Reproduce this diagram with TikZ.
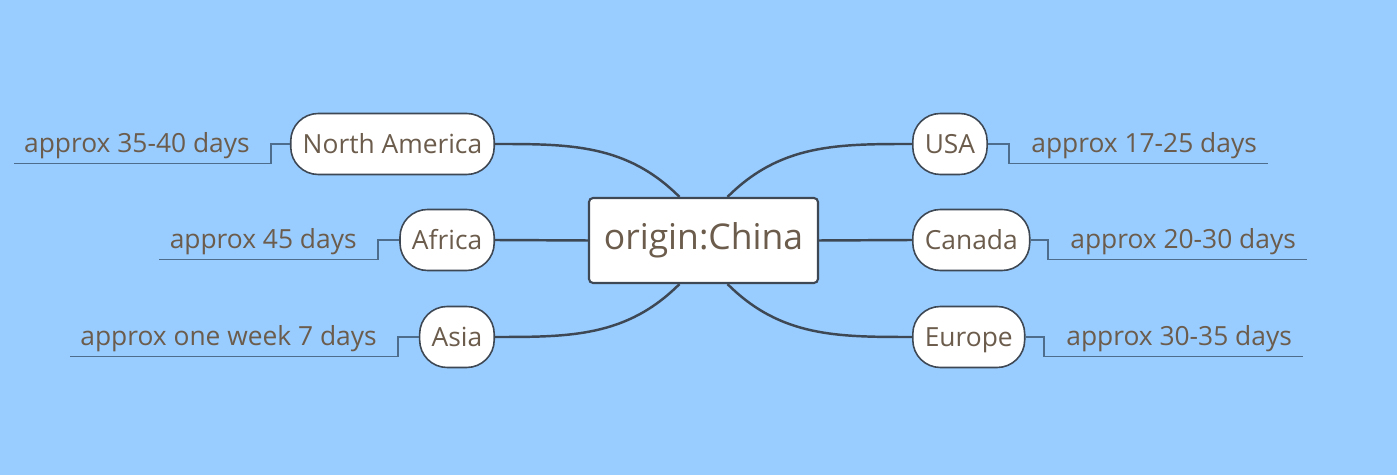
\documentclass[tikz,border=0pt]{standalone}
\usepackage{fontspec}
\setmainfont{Open Sans}
\usepackage{tikz}
\usepackage{xcolor}
\definecolor{bgblue}{RGB}{153,204,255}
\definecolor{txtbrown}{RGB}{107,92,76}
\definecolor{edgegray}{RGB}{62,72,84}
\definecolor{tieblue}{RGB}{78,108,140}

\begin{document}
\begin{tikzpicture}[x=0.02cm,y=-0.02cm,font=\fontsize{15}{18}\selectfont,
 every node/.style={text=txtbrown},
 topic/.style={draw=edgegray,line width=0.9pt,fill=white,rounded corners=0.55cm,minimum height=1.22cm,inner xsep=0.24cm,text height=11.3pt,text depth=0pt},
 hub/.style={draw=edgegray,line width=1.2pt,fill=white,rounded corners=0.08cm,minimum width=4.58cm,minimum height=1.7cm,font=\fontsize{20.2}{24}\selectfont},
 lbl/.style={inner xsep=0pt,inner ysep=0.2cm,text depth=0pt},
 branch/.style={draw=edgegray,line width=1.4pt},
 tie/.style={draw=tieblue,line width=0.8pt}]
\fill[bgblue](0,0) rectangle (1397,475);
\node[hub](cn) at (703.5,240.5){origin:China};
\node[topic,anchor=east](na) at (495,144){North America};
\node[topic,anchor=east](af) at (495,240){Africa};
\node[topic,anchor=east](as) at (495,337){Asia};
\node[topic,anchor=west](us) at (912,144){USA};
\node[topic,anchor=west](ca) at (912,240){Canada};
\node[topic,anchor=west](eu) at (912,337){Europe};
\node[lbl,anchor=base east](lna) at (250,153){approx 35-40 days};
\node[lbl,anchor=base east](laf) at (357,249){approx 45 days};
\node[lbl,anchor=base east](las) at (377,346){approx one week 7 days};
\node[lbl,anchor=base west](lus) at (1031,153){approx 17-25 days};
\node[lbl,anchor=base west](lca) at (1070,249){approx 20-30 days};
\node[lbl,anchor=base west](leu) at (1066,346){approx 30-35 days};
\draw[branch]([xshift=-0.48cm]cn.north) to[out=135,in=0](na.east);
\draw[branch]([xshift=0.48cm]cn.north) to[out=45,in=180](us.west);
\draw[branch](cn.west)--(af.east);\draw[branch](cn.east)--(ca.west);
\draw[branch]([xshift=-0.48cm]cn.south) to[out=-135,in=0](as.east);
\draw[branch]([xshift=0.48cm]cn.south) to[out=-45,in=180](eu.west);
\draw[tie](na.west) -| ([xshift=0.42cm]lna.south east)--([xshift=-0.2cm]lna.south west);
\draw[tie](af.west) -| ([xshift=0.42cm]laf.south east)--([xshift=-0.2cm]laf.south west);
\draw[tie](as.west) -| ([xshift=0.42cm]las.south east)--([xshift=-0.2cm]las.south west);
\draw[tie](us.east) -| ([xshift=-0.44cm]lus.south west)--([xshift=0.22cm]lus.south east);
\draw[tie](ca.east) -| ([xshift=-0.44cm]lca.south west)--([xshift=0.22cm]lca.south east);
\draw[tie](eu.east) -| ([xshift=-0.44cm]leu.south west)--([xshift=0.22cm]leu.south east);
\end{tikzpicture}
\end{document}
